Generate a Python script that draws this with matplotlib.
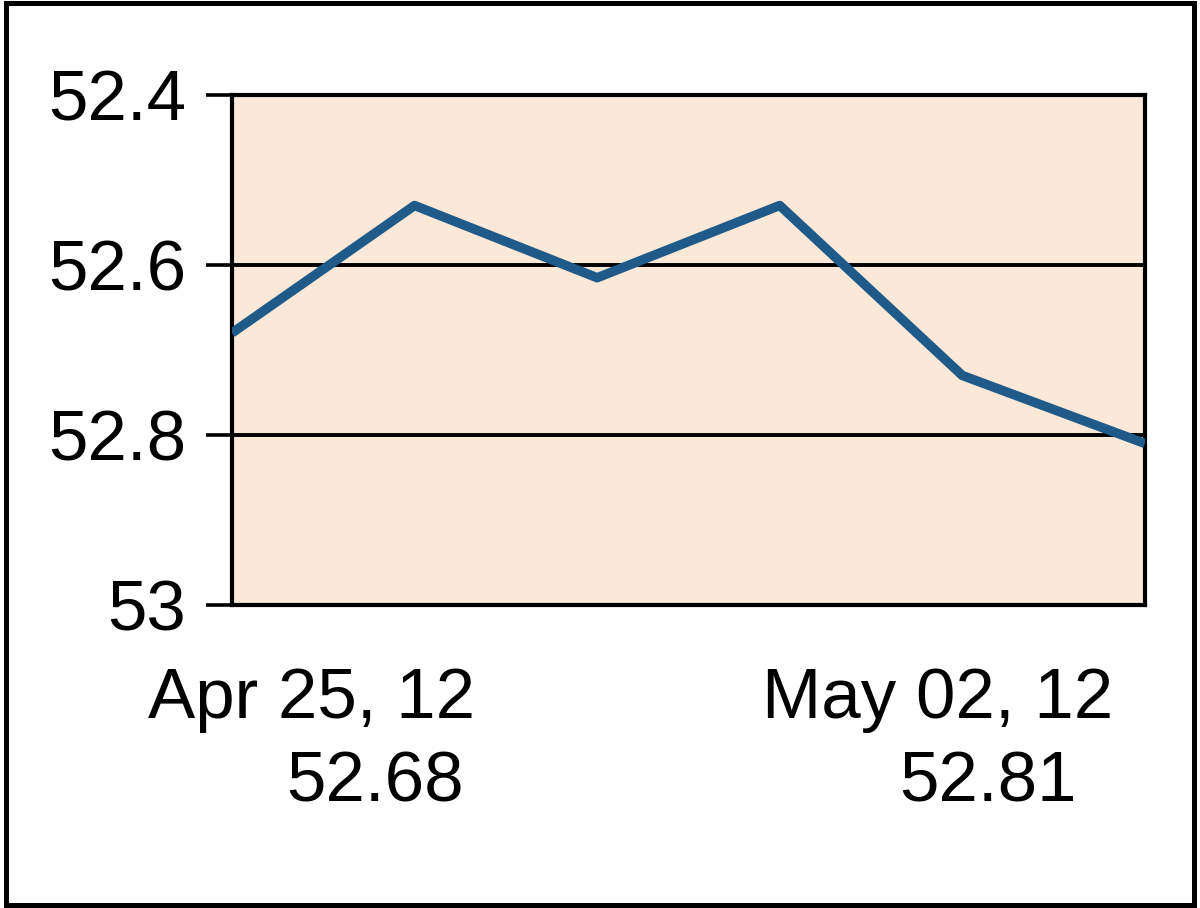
import matplotlib
matplotlib.use('Agg')
import matplotlib.pyplot as plt
from matplotlib.patches import Rectangle

plt.rcParams['font.family'] = ['Liberation Sans', 'DejaVu Sans']

# closing prices, Apr 25 - May 02 2012
days = [0, 1, 2, 3, 4, 5]
prices = [52.68, 52.53, 52.615, 52.53, 52.73, 52.81]
yticks = [52.4, 52.6, 52.8, 53.0]
ytick_labels = ['52.4', '52.6', '52.8', '53']
start_label = ['Apr 25, 12', '52.68']
end_label = ['May 02, 12', '52.81']

fig = plt.figure(figsize=(12, 9.08), dpi=100)
ax = fig.add_axes([0.1933, 0.3337, 0.7608, 0.5617])
ax.set_facecolor('#fae8d9')

ax.plot(days, prices, color='#1f5a88', lw=6.8, solid_joinstyle='round',
        solid_capstyle='butt', zorder=3)

ax.set_xlim(0, 5)
ax.set_ylim(53.0, 52.4)
ax.set_yticks(yticks)
ax.set_yticklabels(ytick_labels, fontsize=51)
ax.set_xticks([])
ax.tick_params(axis='y', length=19, width=2.6, pad=14, color='black')
for y in yticks[1:-1]:
    ax.axhline(y, color='black', lw=2.8, zorder=2)
for s in ax.spines.values():
    s.set_linewidth(3.0)

fig.text(148 / 1200, 1 - 700 / 908, start_label[0], fontsize=51, ha='left', va='center')
fig.text(464 / 1200, 1 - 783 / 908, start_label[1], fontsize=51, ha='right', va='center')
fig.text(762 / 1200, 1 - 700 / 908, end_label[0], fontsize=51, ha='left', va='center')
fig.text(1077 / 1200, 1 - 783 / 908, end_label[1], fontsize=51, ha='right', va='center')

fig.patches.append(Rectangle((0.005, 0.003), 0.99, 0.994, transform=fig.transFigure,
                             fill=False, lw=3.6, edgecolor='black'))

fig.savefig('out.png', dpi=100)
